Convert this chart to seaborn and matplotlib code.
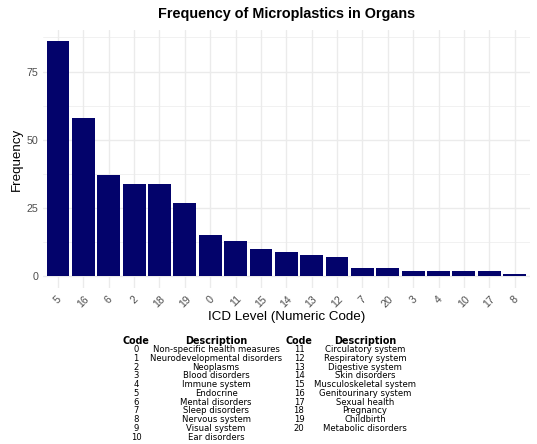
import pandas as pd
import numpy as np
import matplotlib
matplotlib.use("Agg")
import matplotlib.pyplot as plt
import seaborn as sns

# bar data (ordered by frequency)
icd_codes = ["5", "16", "6", "2", "18", "19", "0", "11", "15", "14",
             "13", "12", "7", "20", "3", "4", "10", "17", "8"]
frequency = [86, 58, 37, 34, 34, 27, 15, 13, 10, 9, 8, 7, 3, 3, 2, 2, 2, 2, 1]

# code table shown under the chart
left_codes = ["0", "1", "2", "3", "4", "5", "6", "7", "8", "9", "10"]
left_desc = ["Non-specific health measures", "Neurodevelopmental disorders",
             "Neoplasms", "Blood disorders", "Immune system", "Endocrine",
             "Mental disorders", "Sleep disorders", "Nervous system",
             "Visual system", "Ear disorders"]
right_codes = ["11", "12", "13", "14", "15", "16", "17", "18", "19", "20"]
right_desc = ["Circulatory system", "Respiratory system", "Digestive system",
              "Skin disorders", "Musculoskeletal system", "Genitourinary system",
              "Sexual health", "Pregnancy", "Childbirth", "Metabolic disorders"]

df = pd.DataFrame({"ICD": icd_codes, "Frequency": frequency})

sns.set_theme(style="whitegrid")
plt.rcParams['font.family'] = ['Liberation Sans', 'DejaVu Sans']
plt.rcParams['text.color'] = 'black'

fig = plt.figure(figsize=(5.37, 4.44), dpi=100)
ax = fig.add_axes([0.0797, 0.351, 0.907, 0.582])
ax.set_facecolor("white")

sns.barplot(data=df, x="ICD", y="Frequency", order=icd_codes,
            color="#03036b", width=0.9, saturation=1, linewidth=0,
            ax=ax, zorder=3)

ax.set_xlim(-0.6, len(icd_codes) - 0.4)
ax.set_ylim(-86 * 0.05, 86 * 1.05)
ax.set_yticks([0, 25, 50, 75])
ax.set_yticks([12.5, 37.5, 62.5, 87.5], minor=True)
ax.grid(True, which="major", color="#ebebeb", linewidth=1.0, zorder=0)
ax.grid(True, which="minor", axis="y", color="#ebebeb", linewidth=0.5, zorder=0)
for s in ax.spines.values():
    s.set_visible(False)
ax.tick_params(axis="both", which="both", length=0, colors="#4d4d4d", labelsize=7.7)
ax.tick_params(axis="y", pad=3)
ax.tick_params(axis="x", pad=4)
for lab in ax.get_xticklabels():
    lab.set_rotation(45)
    lab.set_ha("center")

ax.set_xlabel("ICD Level (Numeric Code)", fontsize=9.6, color="black", labelpad=1)
ax.set_ylabel("Frequency", fontsize=9.6, color="black", labelpad=3)
fig.text(0.5 * (0.0797 + 0.0797 + 0.907), 1 - 14 / 444,
         "Frequency of Microplastics in Organs",
         ha="center", va="center", fontsize=10.4, fontweight="bold")

# table under the plot
H = 444.0
W = 537.0
col_x = [136, 216, 299, 365]
header_y = 341.5
row_y0 = 349.5
row_step = 8.75
tfont = ['DejaVu Sans']
for cx, txt in zip(col_x, ["Code", "Description", "Code", "Description"]):
    fig.text(cx / W, 1 - header_y / H, txt, ha="center", va="center",
             fontsize=6.9, fontweight="bold", family=tfont)
for i, (c, d) in enumerate(zip(left_codes, left_desc)):
    y = 1 - (row_y0 + i * row_step) / H
    fig.text(col_x[0] / W, y, c, ha="center", va="center", fontsize=6.1, family=tfont)
    fig.text(col_x[1] / W, y, d, ha="center", va="center", fontsize=6.1, family=tfont)
for i, (c, d) in enumerate(zip(right_codes, right_desc)):
    y = 1 - (row_y0 + i * row_step) / H
    fig.text(col_x[2] / W, y, c, ha="center", va="center", fontsize=6.1, family=tfont)
    fig.text(col_x[3] / W, y, d, ha="center", va="center", fontsize=6.1, family=tfont)

fig.savefig("out.png", dpi=100, facecolor="white")
